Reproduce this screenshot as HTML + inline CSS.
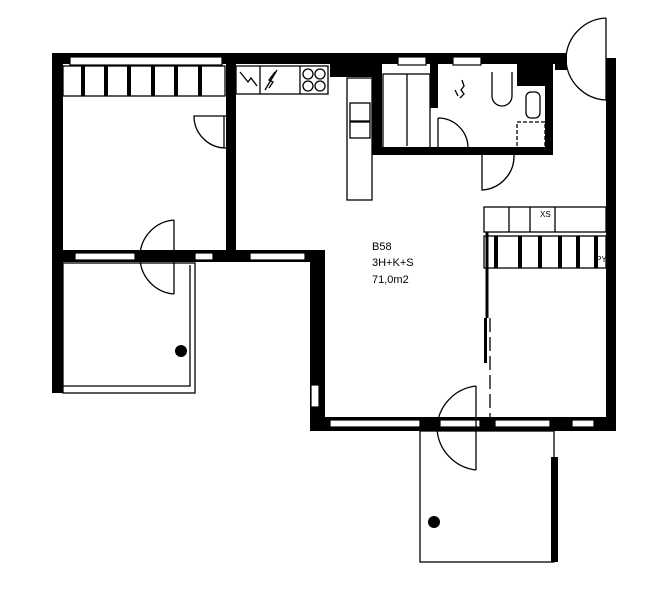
<!DOCTYPE html>
<html><head><meta charset="utf-8"><style>
html,body{margin:0;padding:0;background:#fff;}
svg{display:block}
text{font-family:"Liberation Sans",sans-serif;fill:#000}
</style></head><body>
<svg width="650" height="592" viewBox="0 0 650 592" xmlns="http://www.w3.org/2000/svg">
<g fill="#000">
<!-- top wall -->
<rect x="52" y="53" width="515" height="11"/>
<rect x="555" y="58" width="12" height="12"/>
<rect x="606" y="58" width="10" height="372"/>
<!-- left wall -->
<rect x="52" y="53" width="11" height="340"/>
<!-- bedroom/kitchen wall -->
<rect x="226" y="63" width="10" height="195"/>
<!-- bedroom bottom wall -->
<rect x="52" y="250" width="273" height="12"/>
<!-- living left wall -->
<rect x="310" y="250" width="15" height="180"/>
<!-- bottom wall -->
<rect x="310" y="417" width="306" height="14"/>
<!-- bathroom block walls -->
<rect x="372" y="63" width="10" height="92"/>
<rect x="372" y="147" width="181" height="8"/>
<rect x="545" y="63" width="8" height="92"/>
<rect x="517" y="63" width="30" height="23"/>
<rect x="430" y="63" width="8" height="45"/>
<rect x="330" y="63" width="42" height="14"/>
<!-- right bedroom wall -->
<rect x="484" y="318" width="3" height="45"/>
<!-- bottom balcony right thick -->
<rect x="551" y="457" width="7" height="105"/>
<!-- dots -->
<circle cx="181" cy="351" r="6"/>
<circle cx="434" cy="522" r="6"/>
</g>
<g fill="#fff" stroke="#000" stroke-width="1.2">
<!-- top windows -->
<rect x="70" y="57" width="152" height="8"/>
<rect x="398" y="57" width="28" height="8"/>
<rect x="453" y="57" width="28" height="8"/>
<!-- bedroom bottom windows -->
<rect x="75" y="253" width="60" height="7"/>
<rect x="195" y="253" width="18" height="7"/>
<rect x="250" y="253" width="55" height="7"/>
<!-- bottom windows -->
<rect x="330" y="420" width="90" height="7"/>
<rect x="440" y="420" width="40" height="7"/>
<rect x="495" y="420" width="55" height="7"/>
<rect x="572" y="420" width="22" height="7"/>
<rect x="311" y="385" width="8" height="22"/>
</g>
<g fill="none" stroke="#000" stroke-width="1.3">
<!-- wardrobe top-left -->
<rect x="63" y="66" width="162" height="30"/>
<line x1="83" y1="66" x2="83" y2="96" stroke-width="4"/>
<line x1="106" y1="66" x2="106" y2="96" stroke-width="4"/>
<line x1="129" y1="66" x2="129" y2="96" stroke-width="4"/>
<line x1="153" y1="66" x2="153" y2="96" stroke-width="4"/>
<line x1="176" y1="66" x2="176" y2="96" stroke-width="4"/>
<line x1="200" y1="66" x2="200" y2="96" stroke-width="4"/>
<!-- door bedroom top-left -->
<path d="M226 116 L194 116 A32 32 0 0 0 226 148"/>
<line x1="224" y1="116" x2="224" y2="148"/>
<!-- door to balcony left -->
<path d="M174 220 L174 294 M174 220 A37 37 0 0 0 140 258 A37 37 0 0 0 174 294"/>
<!-- left balcony -->
<rect x="63" y="263" width="132" height="130"/>
<polyline points="63,386 190,386 190,265"/>
<!-- kitchen counters -->
<rect x="236" y="66" width="92" height="28"/>
<line x1="260" y1="66" x2="260" y2="94"/>
<line x1="300" y1="66" x2="300" y2="94"/>
<circle cx="308" cy="74" r="5"/><circle cx="320" cy="74" r="5"/>
<circle cx="308" cy="86" r="5"/><circle cx="320" cy="86" r="5"/>
<rect x="347" y="78" width="25" height="122"/>
<rect x="350" y="103" width="20" height="18"/>
<rect x="350" y="122" width="20" height="16"/>
<path d="M240 72 l8 10 l3 -4 l6 8 M265 90 l12 -20 M275 72 l-6 8 l4 2 l-4 6"/>
<!-- bathroom -->
<rect x="383" y="74" width="47" height="74"/>
<line x1="407" y1="74" x2="407" y2="146"/>
<path d="M438 118 L438 148 M438 118 A30 30 0 0 1 468 148"/>
<path d="M492 72 L492 96 A10 10 0 0 0 512 96 L512 72"/>
<rect x="526" y="92" width="14" height="26" rx="5"/>
<rect x="517" y="122" width="28" height="26" stroke-dasharray="4 2"/>
<path d="M462 80 l2 6 l-3 4 l3 4 l-4 4 M455 90 l3 6"/>
<!-- door below bath -->
<path d="M482 155 L482 190 A34 34 0 0 0 514 155"/>
<!-- entrance door -->
<path d="M606 18 L606 100 M606 18 A42 42 0 0 0 566 60 A42 42 0 0 0 606 100"/>
<!-- right closet -->
<rect x="484" y="207" width="122" height="25"/>
<line x1="509" y1="207" x2="509" y2="232"/>
<line x1="530" y1="207" x2="530" y2="232"/>
<line x1="555" y1="207" x2="555" y2="232"/>
<rect x="484" y="236" width="122" height="32"/>
<line x1="496" y1="236" x2="496" y2="268" stroke-width="4"/>
<line x1="520" y1="236" x2="520" y2="268" stroke-width="4"/>
<line x1="540" y1="236" x2="540" y2="268" stroke-width="4"/>
<line x1="560" y1="236" x2="560" y2="268" stroke-width="4"/>
<line x1="578" y1="236" x2="578" y2="268" stroke-width="4"/>
<line x1="596" y1="236" x2="596" y2="268" stroke-width="4"/>
<line x1="487" y1="232" x2="487" y2="318" stroke-width="3"/>
<line x1="490" y1="318" x2="490" y2="417" stroke-dasharray="14 5"/>
<!-- bottom door -->
<path d="M476 386 L476 470 M476 386 A44 44 0 0 0 437 428 A44 44 0 0 0 476 470"/>
<!-- bottom balcony -->
<rect x="420" y="431" width="134" height="131"/>
</g>
<text x="540" y="217" font-size="8">XS</text>
<text x="596" y="262" font-size="8">PY</text>
<text x="372" y="250" font-size="11">B58</text>
<text x="372" y="266" font-size="11">3H+K+S</text>
<text x="372" y="283" font-size="11">71,0m2</text>
</svg>
</body></html>
